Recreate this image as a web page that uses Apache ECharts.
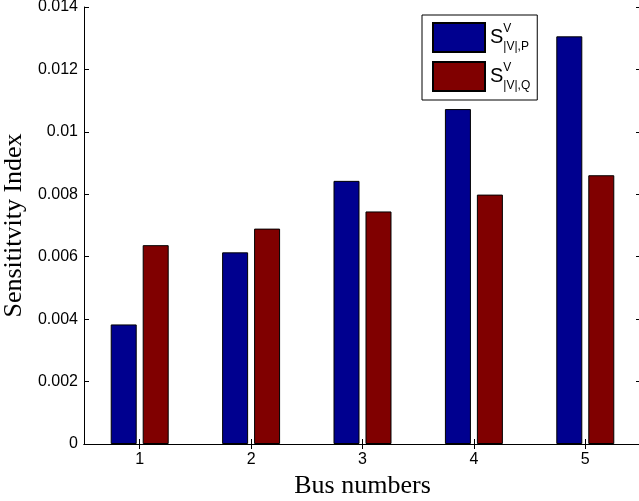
<!DOCTYPE html>
<html><head><meta charset="utf-8">
<script src="https://cdn.jsdelivr.net/npm/echarts@6/dist/echarts.min.js"></script>
<style>html,body{margin:0;padding:0;background:#fff}#c{width:639px;height:501px}</style>
</head><body><div id="c"></div>
<script>
const categories = ['1', '2', '3', '4', '5'];
const seriesNames = ['SVP', 'SVQ'];
const valuesP = [0.00383, 0.00614, 0.00843, 0.01073, 0.01306];
const valuesQ = [0.00637, 0.00690, 0.00745, 0.00799, 0.00861];
const legendSup = ['V', 'V'];
const legendSub = ['|V|,P', '|V|,Q'];
const xTitle = 'Bus numbers';
const yTitle = 'Sensititvity Index';
const yMin = 0, yMax = 0.014, yStep = 0.002;

const chart = echarts.init(document.getElementById('c'), null, {renderer: 'canvas'});
const sans = 'Liberation Sans';
const serif = 'Liberation Serif';
const axisLineStyle = {color: '#000', width: 1};
const tickCommon = {show: true, inside: true, length: 5, lineStyle: {color: '#000', width: 1}};

chart.setOption({
  animation: false,
  backgroundColor: '#fff',
  grid: {left: 84, top: 7, width: 557, height: 437, containLabel: false, outerBoundsMode: 'none'},
  legend: {
    orient: 'vertical', left: 422, top: 15,
    padding: [7, 7, 8, 10],
    itemWidth: 52, itemHeight: 29, itemGap: 8,
    borderColor: '#000', borderWidth: 1, borderRadius: 0, backgroundColor: '#fff',
    icon: 'rect',
    data: seriesNames,
    formatter: function (name) {
      const i = seriesNames.indexOf(name);
      return '{s|S}{sup|' + legendSup[i] + '}{sub|' + legendSub[i] + '}';
    },
    textStyle: {
      color: '#000',
      rich: {
        s: {fontFamily: sans, fontSize: 20, lineHeight: 30, color: '#000'},
        sup: {fontFamily: sans, fontSize: 12, lineHeight: 14, verticalAlign: 'top', width: 0.01, color: '#000'},
        sub: {fontFamily: sans, fontSize: 12, lineHeight: 14, verticalAlign: 'bottom', color: '#000'}
      }
    }
  },
  xAxis: [{
    type: 'category', data: categories, position: 'bottom',
    axisLine: {show: true, lineStyle: axisLineStyle},
    axisTick: Object.assign({alignWithLabel: true}, tickCommon),
    axisLabel: {color: '#000', fontFamily: sans, fontSize: 16, margin: 8},
    splitLine: {show: false},
    name: xTitle, nameLocation: 'middle', nameGap: 25,
    nameTextStyle: {fontFamily: serif, fontSize: 26, color: '#000'}
  }, {
    type: 'category', data: categories, position: 'top',
    axisLine: {show: true, lineStyle: axisLineStyle},
    axisTick: Object.assign({alignWithLabel: true}, tickCommon),
    axisLabel: {show: false},
    splitLine: {show: false}
  }],
  yAxis: [{
    type: 'value', min: yMin, max: yMax, interval: yStep, position: 'left',
    axisLine: {show: true, lineStyle: axisLineStyle},
    axisTick: tickCommon,
    axisLabel: {color: '#000', fontFamily: sans, fontSize: 16, margin: 6,
      formatter: v => String(+v.toFixed(3))},
    splitLine: {show: false},
    name: yTitle, nameLocation: 'middle', nameGap: 52,
    nameTextStyle: {fontFamily: serif, fontSize: 26, color: '#000'}
  }, {
    type: 'value', min: yMin, max: yMax, interval: yStep, position: 'right',
    axisLine: {show: true, lineStyle: axisLineStyle},
    axisTick: tickCommon,
    axisLabel: {show: false},
    splitLine: {show: false}
  }],
  series: [{
    name: seriesNames[0], type: 'bar', data: valuesP,
    barWidth: 26, barGap: '23%',
    itemStyle: {color: '#00008F', borderColor: '#000', borderWidth: 1}
  }, {
    name: seriesNames[1], type: 'bar', data: valuesQ,
    barWidth: 26, barGap: '23%',
    itemStyle: {color: '#800000', borderColor: '#000', borderWidth: 1}
  }]
});
</script>
</body></html>
